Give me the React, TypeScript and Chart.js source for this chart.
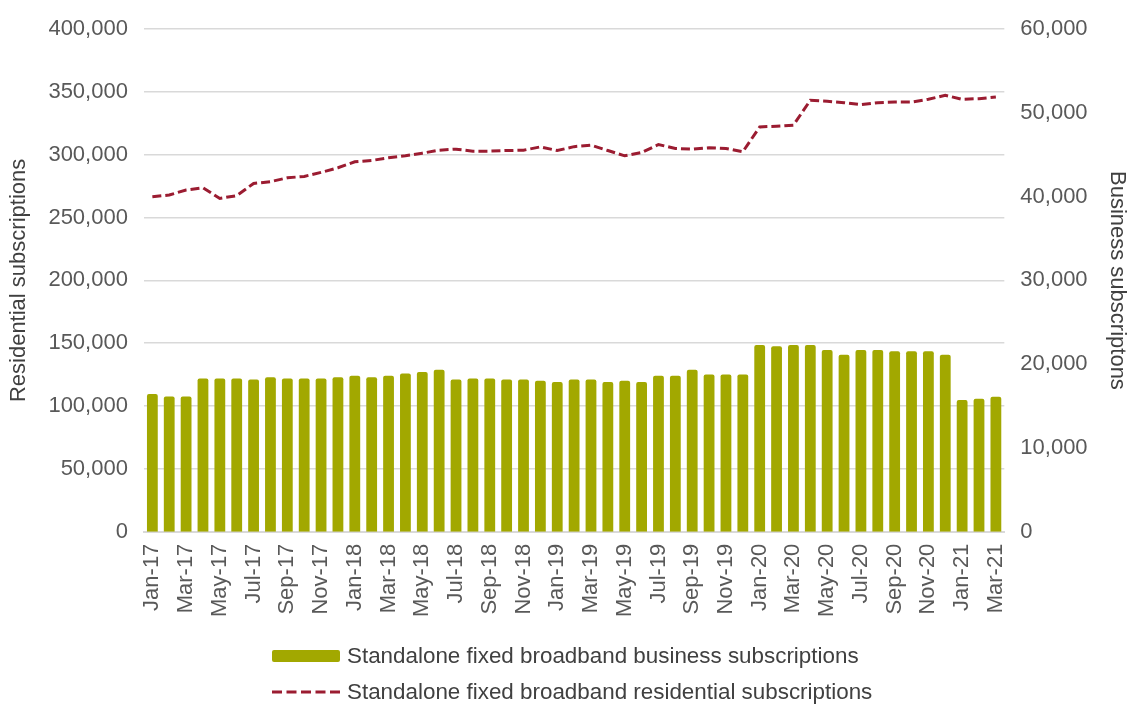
import React, { useEffect, useRef } from "react";
import { Chart, registerables } from "chart.js";

Chart.register(...registerables);

const months = [
  "Jan-17","Feb-17","Mar-17","Apr-17","May-17","Jun-17","Jul-17","Aug-17","Sep-17","Oct-17","Nov-17","Dec-17",
  "Jan-18","Feb-18","Mar-18","Apr-18","May-18","Jun-18","Jul-18","Aug-18","Sep-18","Oct-18","Nov-18","Dec-18",
  "Jan-19","Feb-19","Mar-19","Apr-19","May-19","Jun-19","Jul-19","Aug-19","Sep-19","Oct-19","Nov-19","Dec-19",
  "Jan-20","Feb-20","Mar-20","Apr-20","May-20","Jun-20","Jul-20","Aug-20","Sep-20","Oct-20","Nov-20","Dec-20",
  "Jan-21","Feb-21","Mar-21",
];

const businessSubs = [
  16450, 16150, 16150, 18290, 18290, 18290, 18170, 18450, 18290, 18290, 18290, 18450,
  18610, 18450, 18610, 18890, 19050, 19330, 18170, 18290, 18290, 18170, 18170, 18010,
  17860, 18170, 18170, 17860, 18010, 17860, 18610, 18610, 19330, 18770, 18770, 18770,
  22300, 22140, 22300, 22300, 21700, 21110, 21700, 21700, 21550, 21550, 21550, 21110,
  15710, 15870, 16110,
];

const residentialSubs = [
  266700, 268000, 272000, 273800, 265300, 267500, 277200, 278600, 281700, 282800, 286000, 289700,
  294400, 295500, 297600, 299200, 301300, 303700, 304500, 302900, 302900, 303400, 303700, 306300,
  303400, 306500, 307700, 303400, 299200, 301800, 308200, 305000, 304500, 305600, 305000, 302400,
  322200, 322800, 323600, 343400, 342600, 341500, 339900, 341500, 342000, 342000, 344200, 347400,
  344200, 344700, 346000,
];

const leftTitle = "Residential subscriptions";
const rightTitle = "Business subscriptons";
const businessLabel = "Standalone fixed broadband business subscriptions";
const residentialLabel = "Standalone fixed broadband residential subscriptions";

const FONT = "'Liberation Sans', Arial, sans-serif";
const TICK_COLOR = "#595959";
const TEXT_COLOR = "#404040";
const GRID_COLOR = "#d9d9d9";
const BAR_COLOR = "#a2a800";
const LINE_COLOR = "#9b1c31";
const FS = 22;

export default function App() {
  const ref = useRef<HTMLCanvasElement | null>(null);

  useEffect(() => {
    if (!ref.current) return;
    const fmt = (v: any) => Number(v).toLocaleString("en-US");
    const chart = new Chart(ref.current, {
      type: "bar",
      data: {
        labels: months,
        datasets: [
          {
            type: "bar",
            label: businessLabel,
            data: businessSubs,
            backgroundColor: BAR_COLOR,
            borderWidth: 0,
            borderRadius: 2,
            barPercentage: 0.64,
            categoryPercentage: 1,
            yAxisID: "y1",
            order: 2,
          } as any,
          {
            type: "line",
            label: residentialLabel,
            data: residentialSubs,
            borderColor: LINE_COLOR,
            backgroundColor: LINE_COLOR,
            borderWidth: 3,
            borderDash: [9, 4],
            pointRadius: 0,
            tension: 0,
            yAxisID: "y",
            order: 1,
          } as any,
        ],
      },
      options: {
        animation: false,
        responsive: true,
        maintainAspectRatio: false,
        layout: { padding: { left: 6, right: 0, top: 12, bottom: 11 } },
        plugins: {
          tooltip: { enabled: false },
          legend: { display: false },
        },
        scales: {
          x: {
            grid: { display: false, drawTicks: false },
            border: { display: true, color: GRID_COLOR, width: 2 },
            ticks: {
              autoSkip: false,
              maxRotation: 90,
              minRotation: 90,
              padding: 12,
              color: TICK_COLOR,
              font: { family: FONT, size: FS },
              callback: (_v: any, i: number) => (i % 2 === 0 ? months[i] : ""),
            },
          },
          y: {
            position: "left",
            min: 0,
            max: 400000,
            grid: { color: GRID_COLOR, lineWidth: 1.5, drawTicks: false },
            border: { display: false },
            ticks: {
              stepSize: 50000,
              padding: 16,
              color: TICK_COLOR,
              font: { family: FONT, size: FS },
              callback: (v: any) => fmt(v),
            },
            title: {
              display: true,
              text: leftTitle,
              color: TEXT_COLOR,
              font: { family: FONT, size: FS },
              padding: { top: 0, bottom: 0 },
            },
          },
          y1: {
            position: "right",
            min: 0,
            max: 60000,
            grid: { display: false, drawTicks: false },
            border: { display: false },
            ticks: {
              stepSize: 10000,
              padding: 16,
              color: TICK_COLOR,
              font: { family: FONT, size: FS },
              callback: (v: any) => fmt(v),
            },
            title: {
              display: true,
              text: rightTitle,
              color: TEXT_COLOR,
              font: { family: FONT, size: FS },
              padding: { top: 0, bottom: 0 },
            },
          },
        },
      },
    });
    return () => chart.destroy();
  }, []);

  const rowStyle: React.CSSProperties = {
    display: "flex",
    alignItems: "center",
    height: 36,
    whiteSpace: "nowrap",
  };
  const textStyle: React.CSSProperties = {
    fontFamily: FONT,
    fontSize: 22.4,
    color: TEXT_COLOR,
    marginLeft: 7,
    lineHeight: "36px",
  };

  return (
    <div style={{ position: "fixed", left: 0, top: 0, width: 1130, height: 707, background: "#fff" }}>
      <div style={{ position: "absolute", left: 0, top: 0, width: 1130, height: 640 }}>
        <canvas ref={ref} />
      </div>
      <div style={{ position: "absolute", left: 272, top: 638 }}>
        <div style={rowStyle}>
          <div style={{ width: 68, height: 12, background: BAR_COLOR, borderRadius: 2 }} />
          <span style={textStyle}>{businessLabel}</span>
        </div>
        <div style={rowStyle}>
          <svg width={68} height={6} style={{ display: "block" }}>
            <line x1={0} y1={3} x2={68} y2={3} stroke={LINE_COLOR} strokeWidth={3} strokeDasharray="10 4.5" />
          </svg>
          <span style={textStyle}>{residentialLabel}</span>
        </div>
      </div>
    </div>
  );
}
